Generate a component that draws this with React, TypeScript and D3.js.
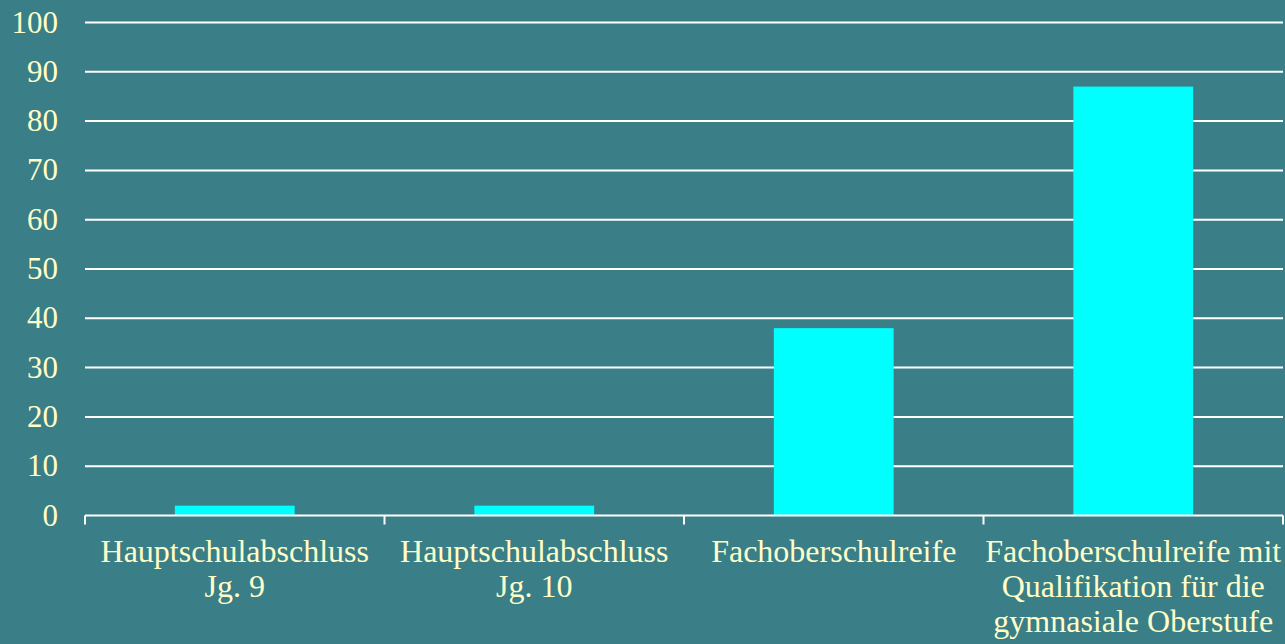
import React, { useEffect, useRef } from 'react';
import * as d3 from 'd3';

// category labels (lines of each label)
const categories = [
  'Hauptschulabschluss Jg. 9',
  'Hauptschulabschluss Jg. 10',
  'Fachoberschulreife',
  'Fachoberschulreife mit Qualifikation für die gymnasiale Oberstufe',
];
const labelLines = [
  ['Hauptschulabschluss', 'Jg. 9'],
  ['Hauptschulabschluss', 'Jg. 10'],
  ['Fachoberschulreife'],
  ['Fachoberschulreife mit', 'Qualifikation für die', 'gymnasiale Oberstufe'],
];
const values = [2, 2, 38, 87];
const yTicks = [0, 10, 20, 30, 40, 50, 60, 70, 80, 90, 100];

const W = 1285;
const H = 644;
const BG = '#3a7e88';
const TEXT = '#ffffc8';
const FONT = '"Liberation Serif", "Times New Roman", serif';

function App() {
  const ref = useRef<SVGSVGElement>(null);

  useEffect(() => {
    const svg = d3.select(ref.current);
    svg.selectAll('*').remove();

    var margin = { top: 22.5, right: 2, bottom: 128.5, left: 85 };

    svg.append('rect').attr('width', W).attr('height', H).attr('fill', BG);

    const x = d3.scaleBand()
      .domain(categories)
      .range([margin.left, W - margin.right])
      .paddingInner(0.6)
      .paddingOuter(0.3);

    const y = d3.scaleLinear()
      .domain([0, 100])
      .range([H - margin.bottom, margin.top]);

    // gridlines
    svg.append('g')
      .selectAll('line')
      .data(yTicks.filter(t => t > 0))
      .enter().append('line')
      .attr('x1', margin.left)
      .attr('x2', W - margin.right)
      .attr('y1', d => y(d))
      .attr('y2', d => y(d))
      .attr('stroke', '#ffffff')
      .attr('stroke-width', 2);

    // y labels
    svg.append('g')
      .selectAll('text')
      .data(yTicks)
      .enter().append('text')
      .attr('x', 58)
      .attr('y', d => y(d) + 10)
      .attr('text-anchor', 'end')
      .attr('fill', TEXT)
      .style('font-family', FONT)
      .style('font-size', '31px')
      .text(d => d);

    // bars
    svg.append('g')
      .selectAll('rect')
      .data(values)
      .enter().append('rect')
      .attr('x', (d, i) => x(categories[i]) as number)
      .attr('y', d => y(d))
      .attr('width', x.bandwidth())
      .attr('height', d => y(0) - y(d))
      .attr('fill', '#00ffff');

    // x axis line + ticks
    const step = x.step();
    const bounds = categories.map(c => (x(c) as number) - step * x.paddingOuter());
    bounds.push(W - margin.right);

    svg.append('line')
      .attr('x1', margin.left)
      .attr('x2', W - margin.right)
      .attr('y1', y(0))
      .attr('y2', y(0))
      .attr('stroke', '#ffffff')
      .attr('stroke-width', 2);

    svg.append('g')
      .selectAll('line')
      .data(bounds)
      .enter().append('line')
      .attr('x1', d => d)
      .attr('x2', d => d)
      .attr('y1', y(0))
      .attr('y2', y(0) + 9)
      .attr('stroke', '#ffffff')
      .attr('stroke-width', 2);

    // category labels
    const lab = svg.append('g')
      .selectAll('text')
      .data(categories)
      .enter().append('text')
      .attr('text-anchor', 'middle')
      .attr('fill', TEXT)
      .style('font-family', FONT)
      .style('font-size', '32px');

    lab.each(function (d, i) {
      const cx = (x(d) as number) + x.bandwidth() / 2;
      d3.select(this)
        .selectAll('tspan')
        .data(labelLines[i])
        .enter().append('tspan')
        .attr('x', cx)
        .attr('y', (l, j) => 562 + j * 35)
        .text(l => l);
    });
  }, []);

  return (
    <svg
      ref={ref}
      width={W}
      height={H}
      style={{ position: 'absolute', left: 0, top: 0, display: 'block' }}
    />
  );
}

export default App;
